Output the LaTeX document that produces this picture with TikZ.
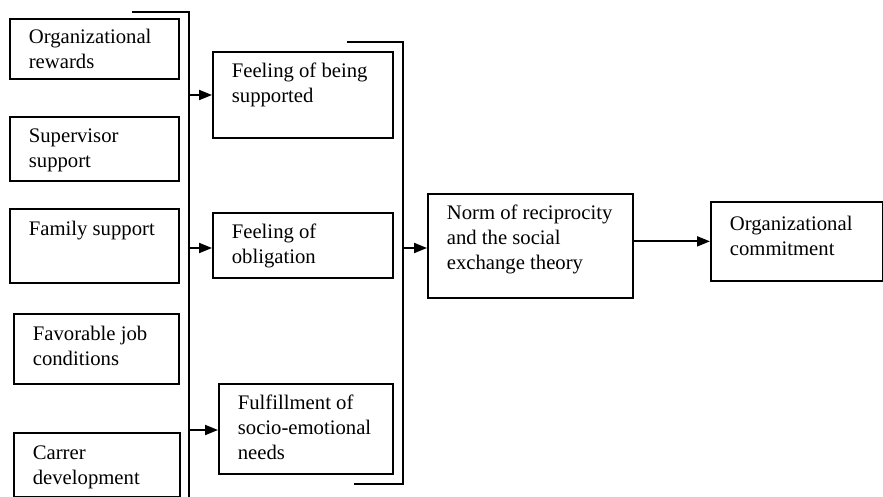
\documentclass[tikz,border=0pt]{standalone}
\usepackage{fontspec}
\setmainfont{Liberation Serif}
\usepackage{tikz}
\usetikzlibrary{arrows.meta}
\tikzstyle{factor} =
[rectangle, anchor=north west, inner sep=0pt, draw=black, line width=0.85pt,
font=\fontsize{10.35pt}{12.4pt}\selectfont]
\tikzstyle{bracket} = [draw, line width=0.9pt]
\tikzstyle{line} = [draw, line width=0.95pt, -{Triangle[length=6.5pt, width=5pt]}]
% box text: [first baseline]{width}{height}{text}
\newcommand{\boxtext}[4][13pt]{\parbox[c][#3][t]{#2}{\raggedright
\leftskip=9.5pt\rule{0pt}{#1}#4}}

\begin{document}
\begin{tikzpicture}[x=0.5pt, y=-0.5pt]
  \useasboundingbox (0,0) rectangle (883,497);
  % 1st level nodes
  \node [factor] (rew) at (9,18) {\boxtext[12.5pt]{84.5pt}{30pt}{Organizational\\ rewards}};
  \node [factor] (sup) at (9,116) {\boxtext{84.5pt}{32pt}{Supervisor\\ support}};
  \node [factor] (fam) at (9,208) {\boxtext[13.5pt]{84.5pt}{37pt}{Family support}};
  \node [factor] (fav) at (13,313) {\boxtext[13.5pt]{82.5pt}{35pt}{Favorable job\\ conditions}};
  \node [factor] (car) at (13,432) {\boxtext[13.5pt]{83pt}{32pt}{Carrer\\ development}};
  % 1st level edges
  \coordinate (ltop) at (132,12);
  \coordinate (lcorner) at (189,12);
  \coordinate (lend) at (189,497);
  \path [bracket] (ltop) -- (lcorner) -- (lend);
  %
  % 2nd level nodes
  \node [factor] (fsup) at (212,51) {\boxtext{90pt}{43pt}{Feeling of being\\ supported}};
  \node [factor] (obl) at (212,212) {\boxtext{90pt}{32.5pt}{Feeling of\\ obligation}};
  \node [factor] (ful) at (218,383) {\boxtext{87pt}{45pt}{Fulfillment of\\ socio-emotional\\ needs}};
  % 2nd level edges
  \coordinate (l1) at (189,95);
  \coordinate (l2) at (189,248);
  \coordinate (l3) at (189,430);
  \path [line] (l1) -- (l1 -| fsup.west);
  \path [line] (l2) -- (l2 -| obl.west);
  \path [line] (l3) -- (l3 -| ful.west);
  \coordinate (rtop) at (347,42);
  \coordinate (rcorner) at (403,42);
  \coordinate (rdown) at (403,484);
  \coordinate (rbot) at (354,484);
  \path [bracket] (rtop) -- (rcorner) -- (rdown) -- (rbot);
  %
  % 3rd level nodes
  \node [factor] (norm) at (427,193) {\boxtext{102.5pt}{52pt}{Norm of reciprocity\\ and the social\\ exchange theory}};
  \node [factor] (com) at (710,201) {\boxtext[14.5pt]{86pt}{39.5pt}{Organizational\\ commitment}};
  % 3rd level edges
  \coordinate (r1) at (403,248);
  \path [line] (r1) -- (r1 -| norm.west);
  \path [line] (norm.east |- com.west) -- (com.west);
\end{tikzpicture}
\end{document}
